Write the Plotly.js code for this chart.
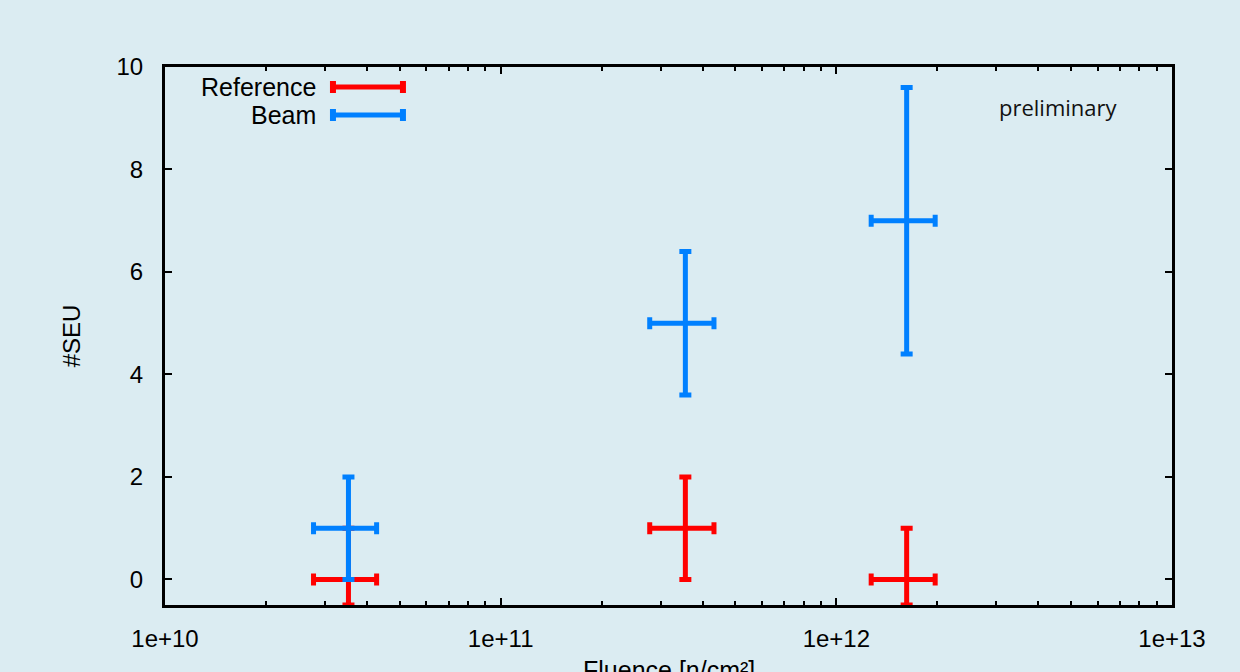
<!DOCTYPE html>
<html>
<head>
<meta charset="utf-8">
<script src="https://cdn.plot.ly/plotly-3.0.1.min.js"></script>
<style>html,body{margin:0;padding:0;background:#dbecf2;}</style>
</head>
<body>
<div id="chart" style="width:1240px;height:672px;"></div>
<script>
// Data
const fluence = [3.52e10, 3.55e11, 1.62e12];
const fluenceErr = [0.75e10, 0.77e11, 0.35e12];
const refSEU = [0, 1, 0];
const refErrPlus = [1, 1, 1];
const refErrMinus = [0.5, 1, 0.5];
const beamSEU = [1, 5, 7];
const beamErrPlus = [1, 1.4, 2.6];
const beamErrMinus = [1, 1.4, 2.6];
const xTickVals = [1e10, 1e11, 1e12, 1e13];
const xTickText = ['1e+10', '1e+11', '1e+12', '1e+13'];
const seriesNames = ['Reference', 'Beam'];
const seriesColors = ['#ff0000', '#0080ff'];
const xTitle = 'Fluence [n/cm²]';
const yTitle = '#SEU';

const bg = '#dbecf2';
const font = {family: 'Liberation Sans, Arial, sans-serif', size: 24, color: '#000'};

function trace(y, plus, minus, name, color) {
  return {
    x: fluence, y: y, name: name, type: 'scatter', mode: 'markers',
    marker: {size: 0.1, color: color},
    cliponaxis: false,
    error_x: {type: 'data', array: fluenceErr, symmetric: true, color: color, thickness: 5, width: 6},
    error_y: {type: 'data', array: plus, arrayminus: minus, symmetric: false, color: color, thickness: 5, width: 6},
    showlegend: false, hoverinfo: 'skip'
  };
}

const data = [
  trace(refSEU, refErrPlus, refErrMinus, seriesNames[0], seriesColors[0]),
  trace(beamSEU, beamErrPlus, beamErrMinus, seriesNames[1], seriesColors[1])
];

// legend (drawn as shapes/annotations in paper coordinates)
const legY = [0.9628, 0.9108];
const legX0 = 0.1668, legX1 = 0.2363;
const capH = 6 / 538;
const shapes = [];
const annotations = [];
seriesNames.forEach((n, i) => {
  shapes.push({type: 'line', xref: 'paper', yref: 'paper', x0: legX0, x1: legX1, y0: legY[i], y1: legY[i],
    line: {color: seriesColors[i], width: 5}});
  [legX0, legX1].forEach(xx => shapes.push({type: 'line', xref: 'paper', yref: 'paper', x0: xx, x1: xx,
    y0: legY[i] - capH, y1: legY[i] + capH, line: {color: seriesColors[i], width: 6}}));
  annotations.push({xref: 'paper', yref: 'paper', x: 0.1519, y: legY[i], xanchor: 'right', yanchor: 'middle',
    text: n, showarrow: false, font: {family: font.family, size: 25, color: '#000'}});
});
annotations.push({xref: 'paper', yref: 'paper', x: 0.826, y: 0.9257, xanchor: 'left', yanchor: 'middle',
  text: 'preliminary', showarrow: false, font: {family: 'Open Sans, sans-serif', size: 22, color: '#111'}});
// x-axis title, placed low as in the reference (partly cut by the page edge)
annotations.push({xref: 'paper', yref: 'paper', x: 0.5, y: -0.121, xanchor: 'center', yanchor: 'middle',
  text: xTitle, showarrow: false, font: {family: font.family, size: 25, color: '#000'}});

const layout = {
  width: 1240, height: 672,
  paper_bgcolor: bg, plot_bgcolor: bg,
  margin: {l: 165, r: 68, t: 67, b: 67},
  font: font,
  showlegend: false,
  xaxis: {
    type: 'log', range: [10, 13],
    tickvals: xTickVals, ticktext: xTickText,
    ticks: 'inside', ticklen: 7, tickwidth: 2, tickcolor: '#000',
    minor: {ticks: 'inside', ticklen: 4, tickwidth: 2, tickcolor: '#000', dtick: 'D1', showgrid: false},
    mirror: 'allticks', showline: true, linewidth: 3, linecolor: '#000',
    showgrid: false, zeroline: false,
    tickfont: font, ticklabelstandoff: 10
  },
  yaxis: {
    range: [-0.5, 10], dtick: 2, tick0: 0,
    ticks: 'inside', ticklen: 7, tickwidth: 2, tickcolor: '#000',
    mirror: 'allticks', showline: true, linewidth: 3, linecolor: '#000',
    showgrid: false, zeroline: false,
    tickfont: font, ticklabelstandoff: 14,
    title: {text: yTitle, font: font, standoff: 30}
  },
  shapes: shapes,
  annotations: annotations
};

Plotly.newPlot('chart', data, layout, {displayModeBar: false, staticPlot: true});
</script>
</body>
</html>
